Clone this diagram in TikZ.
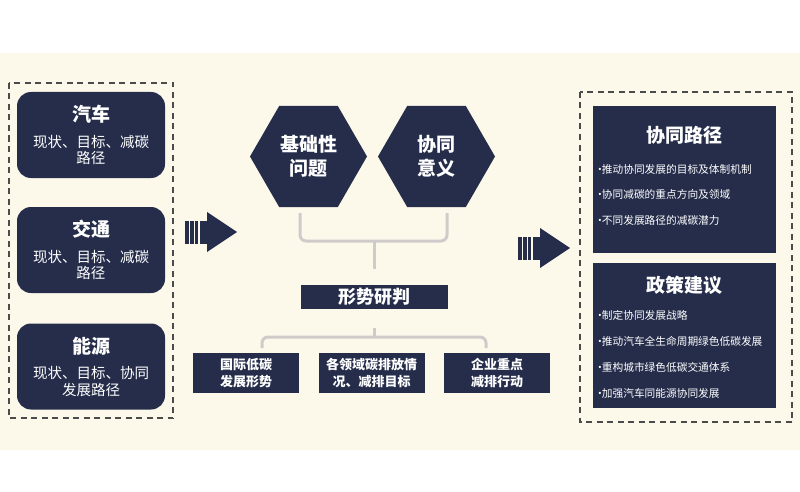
\documentclass[tikz,border=0pt]{standalone}
\usepackage{fontspec}
\setmainfont{Noto Sans CJK SC}
\usetikzlibrary{shapes.geometric}
\definecolor{navy}{HTML}{252D4B}
\definecolor{cream}{HTML}{FDF9EA}
\definecolor{bracegray}{HTML}{CFCBCB}
\definecolor{dashgray}{HTML}{4B4B4B}
\begin{document}
\begin{tikzpicture}[x=1pt,y=-1pt,
	darkbox/.style={fill=navy,text=white,inner sep=0pt},
	sectorbox/.style={darkbox,rounded corners=14pt,minimum width=148pt,minimum height=86pt,align=center,font=\fontsize{14.5}{16.5}\selectfont},
	hexbox/.style={darkbox,regular polygon,regular polygon sides=6,minimum size=117pt,align=center,font=\bfseries\fontsize{19}{24}\selectfont},
	topicbox/.style={darkbox,minimum width=106pt,minimum height=40pt,align=center,font=\bfseries\fontsize{13}{17}\selectfont},
	resultbox/.style={darkbox,minimum width=183pt},
	heading/.style={text=white,inner sep=0pt,font=\bfseries\fontsize{19}{19}\selectfont},
	bullet/.style={anchor=west,text=white,inner sep=0pt,font=\fontsize{10.7}{12}\selectfont},
	frame/.style={draw=dashgray,line width=1.5pt,dash pattern=on 6pt off 4.5pt},
	brace/.style={draw=bracegray,line width=3pt,rounded corners=6pt},
	pics/stripearrow/.style={code={
		\fill[navy] (-52,-11.5) rectangle (-30,11.5);
		\fill[navy] (-30,-20) -- (0,0) -- (-30,20) -- cycle;
		\foreach \s in {-47.5,-42.5,-38}
			\draw[cream,line width=1.3pt] (\s,-12) -- (\s,12);
	}}]
	\useasboundingbox (0,0) rectangle (800,492);
	\fill[white] (0,0) rectangle (800,492);
	\fill[cream] (0,53) rectangle (800,450);
	% sectors
	\draw[frame] (9,83) rectangle (173,418);
	\node[sectorbox] (car) at (91,135) {{\bfseries\fontsize{19}{19}\selectfont 汽车}\\[9pt]现状、目标、减碳\\路径};
	\node[sectorbox] (traffic) at (91,250) {{\bfseries\fontsize{19}{19}\selectfont 交通}\\[9pt]现状、目标、减碳\\路径};
	\node[sectorbox] (energy) at (91,366.5) {{\bfseries\fontsize{19}{19}\selectfont 能源}\\[9pt]现状、目标、协同\\发展路径};
	\pic (arrowin) at (237,232) {stripearrow};
	% analysis
	\node[hexbox] (basics) at (308.5,156.5) {基础性\\问题};
	\node[hexbox] (meaning) at (436.5,156.5) {协同\\意义};
	\coordinate (braceL) at (300,213);
	\coordinate (braceR) at (447,213);
	\coordinate (braceM) at (374,241);
	\coordinate (braceTip) at (374,269);
	\draw[brace] (braceL) |- (braceM) -| (braceR);
	\draw[brace] (braceM) -- (braceTip);
	\node[darkbox,minimum width=147pt,minimum height=24pt,font=\bfseries\fontsize{18}{18}\selectfont] (judge) at (374.5,297) {形势研判};
	\node[topicbox] (global) at (246,373) {国际低碳\\发展形势};
	\node[topicbox] (fields) at (371.5,373) {各领域碳排放情\\况、减排目标};
	\node[topicbox] (firms) at (497,373) {企业重点\\减排行动};
	\coordinate (forkTop) at (374,328);
	\coordinate (forkMid) at (374,337);
	\coordinate (forkL) at (262,348);
	\coordinate (forkR) at (486,348);
	\draw[brace] (forkTop) -- (forkMid);
	\draw[brace] (forkL) |- (forkMid) -| (forkR);
	\pic (arrowout) at (570,248) {stripearrow};
	% results
	\draw[frame] (580,92) rectangle (792,422);
	\node[resultbox,minimum height=147pt] (path) at (684.5,179.5) {};
	\node[heading] (pathtitle) at (684.5,135) {协同路径};
	\foreach \t [count=\i] in {推动协同发展的目标及体制机制,协同减碳的重点方向及领域,不同发展路径的减碳潜力}
		\node[bullet] (pathitem\i) at (598,{169+25.5*(\i-1)}) {\kern-3.5pt·\kern-3.5pt\t};
	\node[resultbox,minimum height=145pt] (policy) at (684.5,335.5) {};
	\node[heading] (policytitle) at (684.5,285) {政策建议};
	\foreach \t [count=\i] in {制定协同发展战略,推动汽车全生命周期绿色低碳发展,重构城市绿色低碳交通体系,加强汽车同能源协同发展}
		\node[bullet] (policyitem\i) at (598,{315+26*(\i-1)}) {\kern-3.5pt·\kern-3.5pt\t};
\end{tikzpicture}
\end{document}
